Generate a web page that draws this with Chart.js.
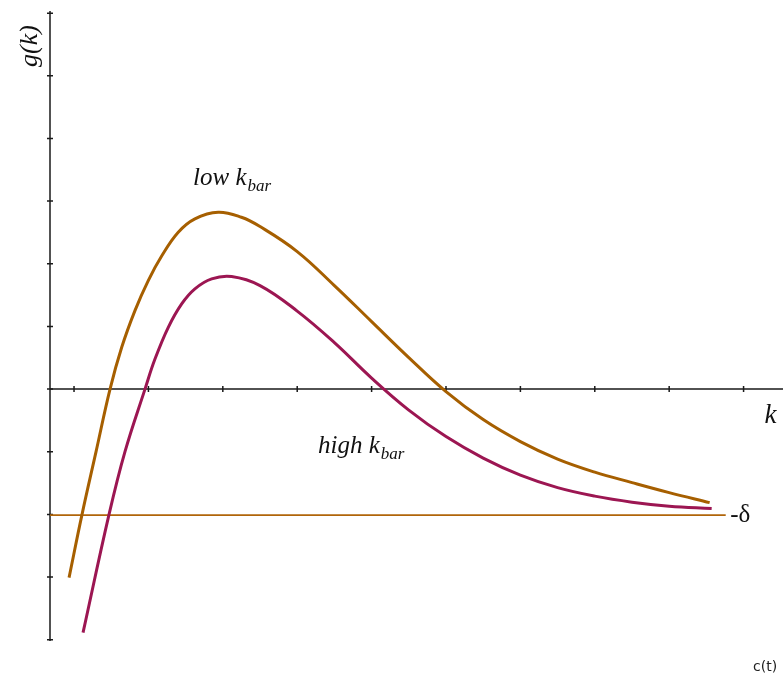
<!DOCTYPE html>
<html>
<head>
<meta charset="utf-8">
<script src="https://cdn.jsdelivr.net/npm/chart.js@4"></script>
<style>
  html, body { margin: 0; padding: 0; background: #fff; }
  #wrap { width: 783px; height: 677px; }
</style>
</head>
<body>
<div id="wrap"><canvas id="chart" width="783" height="677"></canvas></div>
<script>
// low k_bar curve
const kLow = [0.933, 1.107, 1.296, 1.484, 1.641, 1.819, 1.998, 2.178, 2.401, 2.625, 2.938, 3.25, 3.5, 4.0, 4.5, 5.0, 5.5, 6.0, 6.5, 7.0, 7.5, 8.0, 8.5, 9.0, 9.544];
const gLow = [-3.009, -2.003, -0.998, 0, 0.667, 1.253, 1.732, 2.123, 2.503, 2.717, 2.822, 2.742, 2.594, 2.195, 1.652, 1.077, 0.503, -0.04, -0.487, -0.838, -1.117, -1.325, -1.492, -1.652, -1.812];

// high k_bar curve
const kHigh = [1.121, 1.47, 1.685, 1.954, 2.088, 2.267, 2.447, 2.625, 2.85, 3.118, 3.5, 4.0, 4.5, 5.0, 5.5, 6.0, 6.5, 7.0, 7.5, 8.0, 8.5, 9.0, 9.571];
const gHigh = [-3.887, -2.003, -0.998, 0, 0.479, 0.986, 1.36, 1.6, 1.759, 1.796, 1.652, 1.245, 0.742, 0.176, -0.335, -0.758, -1.101, -1.373, -1.572, -1.708, -1.804, -1.868, -1.907];

// -delta line
const deltaK = [0.677, 9.76];
const deltaG = [-2.01, -2.01];

// axis ticks
const kTicks = [1, 2, 3, 4, 5, 6, 7, 8, 9, 10];
const gTicks = [-4, -3, -2, -1, 0, 1, 2, 3, 4, 5, 6];

const orange = "#a65f00";
const crimson = "#9c1652";

function toPoints(xs, ys) {
    return xs.map((x, i) => ({ x: x, y: ys[i] }));
}

// axes drawn through the chart's scales, ticks crossing the axis lines
const axesPlugin = {
    id: "axes",
    beforeDatasetsDraw(chart) {
        const ctx = chart.ctx;
        const xs = chart.scales.x;
        const ys = chart.scales.y;
        const area = chart.chartArea;
        const x0 = xs.getPixelForValue(xs.min);
        const y0 = ys.getPixelForValue(0);

        ctx.save();
        ctx.strokeStyle = "#1a1a1a";
        ctx.lineWidth = 1.5;
        ctx.beginPath();
        ctx.moveTo(x0, area.top + 1);
        ctx.lineTo(x0, area.bottom);
        ctx.moveTo(area.left, y0);
        ctx.lineTo(area.right, y0);
        ctx.stroke();

        ctx.beginPath();
        kTicks.forEach(k => {
            const px = xs.getPixelForValue(k);
            ctx.moveTo(px, y0 - 3);
            ctx.lineTo(px, y0 + 3);
        });
        gTicks.forEach(g => {
            const py = ys.getPixelForValue(g);
            ctx.moveTo(x0 - 3, py);
            ctx.lineTo(x0 + 3, py);
        });
        ctx.stroke();
        ctx.restore();
    },
    afterDraw(chart) {
        const ctx = chart.ctx;
        const xs = chart.scales.x;
        const ys = chart.scales.y;
        const serif = "'Liberation Serif', 'DejaVu Serif', serif";

        ctx.save();
        ctx.fillStyle = "#111";
        ctx.textBaseline = "alphabetic";

        // y title
        ctx.save();
        ctx.translate(37, 46);
        ctx.rotate(-Math.PI / 2);
        ctx.textAlign = "center";
        ctx.font = "italic 26px " + serif;
        ctx.fillText("g(k)", 0, 0);
        ctx.restore();

        // k label
        ctx.font = "italic 27px " + serif;
        ctx.textAlign = "left";
        ctx.fillText("k", xs.getPixelForValue(10.28), ys.getPixelForValue(-0.54));

        // curve labels with subscript
        function subLabel(main, sub, k, g) {
            const x = xs.getPixelForValue(k);
            const y = ys.getPixelForValue(g);
            ctx.font = "italic 25px " + serif;
            ctx.textAlign = "left";
            ctx.fillText(main, x, y);
            const w = ctx.measureText(main).width;
            ctx.font = "italic 17px " + serif;
            ctx.fillText(sub, x + w + 1, y + 6);
        }
        subLabel("low k", "bar", 2.6, 3.25);
        subLabel("high k", "bar", 4.28, -1.02);

        // -delta
        ctx.font = "25px " + serif;
        ctx.fillText("-\u03b4", xs.getPixelForValue(9.82), ys.getPixelForValue(-2.12));

        // c(t)
        ctx.font = "14px 'DejaVu Sans', sans-serif";
        ctx.fillStyle = "#222";
        ctx.fillText("c(t)", 753, 671);
        ctx.restore();
    }
};

new Chart(document.getElementById("chart"), {
    type: "line",
    data: {
        datasets: [
            {
                data: toPoints(kLow, gLow),
                borderColor: orange,
                borderWidth: 3,
                pointRadius: 0,
                tension: 0.4,
                fill: false
            },
            {
                data: toPoints(kHigh, gHigh),
                borderColor: crimson,
                borderWidth: 3,
                pointRadius: 0,
                tension: 0.4,
                fill: false
            },
            {
                data: toPoints(deltaK, deltaG),
                borderColor: "#b0650a",
                borderWidth: 1.8,
                pointRadius: 0,
                fill: false
            }
        ]
    },
    options: {
        responsive: false,
        devicePixelRatio: 1,
        animation: false,
        layout: { padding: { left: 50, right: 0, top: 10, bottom: 36 } },
        scales: {
            x: { type: "linear", min: 0.677, max: 10.53, display: false },
            y: { type: "linear", min: -4.02, max: 6.05, display: false }
        },
        plugins: {
            legend: { display: false },
            tooltip: { enabled: false }
        }
    },
    plugins: [axesPlugin]
});
</script>
</body>
</html>
